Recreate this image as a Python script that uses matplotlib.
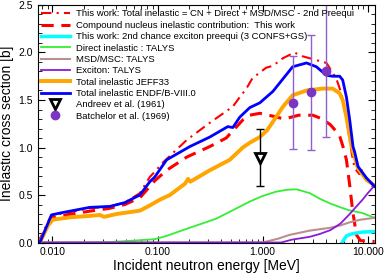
import numpy as np
import matplotlib
matplotlib.use('Agg')
import matplotlib.pyplot as plt
from matplotlib.ticker import FixedLocator, LogLocator, MultipleLocator, NullFormatter

plt.rcParams['font.family'] = ['Liberation Sans', 'DejaVu Sans']

# ENDF/B-VIII.0 total inelastic
e_endf = [0.0076, 0.0098, 0.0118, 0.0227, 0.0352, 0.0489, 0.0679, 0.0845, 0.0942, 0.122,
          0.203, 0.314, 0.466, 0.52, 0.606, 0.754, 0.939, 1.25, 1.93, 2.61, 3.24, 4.04,
          4.63, 5.4, 5.77, 6.26, 6.73, 7.23, 7.51, 8.07, 9.7, 11.6]
s_endf = [0.0, 0.29, 0.31, 0.37, 0.38, 0.42, 0.50, 0.64, 0.69, 0.87,
          1.01, 1.11, 1.22, 1.21, 1.32, 1.42, 1.47, 1.59, 1.85, 1.89, 1.85, 1.76,
          1.75, 1.75, 1.71, 1.53, 1.29, 1.01, 0.95, 0.80, 0.68, 0.59]

# JEFF33 total inelastic
e_jeff = [0.0076, 0.0091, 0.0101, 0.0147, 0.0227, 0.0283, 0.031, 0.0407, 0.0679, 0.0845,
          0.105, 0.131, 0.183, 0.195, 0.205, 0.314, 0.486, 0.647, 0.754, 0.939, 1.1, 1.25,
          1.56, 1.93, 2.61, 3.7, 4.63, 5.4, 5.77, 6.26, 7.0, 8.07, 9.7, 11.6]
s_jeff = [0.0, 0.18, 0.24, 0.265, 0.28, 0.29, 0.27, 0.30, 0.335, 0.39,
          0.45, 0.50, 0.62, 0.67, 0.64, 0.76, 0.87, 1.0, 1.05, 1.11, 1.18, 1.27,
          1.43, 1.55, 1.60, 1.62, 1.62, 1.57, 1.50, 1.32, 1.01, 0.78, 0.66, 0.60]

# This work: total inelastic
e_tot = [0.0073, 0.0085, 0.0098, 0.0118, 0.0227, 0.0352, 0.0489, 0.0679, 0.0845, 0.0942,
         0.112, 0.19, 0.314, 0.52, 0.606, 0.70, 0.80, 1.08, 1.25, 1.56, 2.0, 2.4, 3.24,
         4.04, 5.0, 5.6, 6.26, 7.0, 7.5, 8.3, 8.8, 9.7, 11.6]
s_tot = [0.0, 0.15, 0.29, 0.30, 0.36, 0.38, 0.42, 0.52, 0.69, 0.745,
         0.84, 1.08, 1.26, 1.43, 1.53, 1.62, 1.73, 1.84, 1.86, 1.94, 2.0, 1.96, 1.92,
         1.89, 1.73, 1.57, 1.30, 0.95, 0.78, 0.72, 0.76, 0.66, 0.60]

# Compound nucleus inelastic: this work
e_cn = [0.0075, 0.0098, 0.0118, 0.0227, 0.0352, 0.0489, 0.0679, 0.0942, 0.122, 0.19,
        0.314, 0.45, 0.647, 0.754, 0.94, 1.25, 1.6, 2.2, 3.0, 3.7, 4.4, 5.0,
        5.4, 5.77, 6.26, 6.73, 7.2, 7.8, 8.5, 11.6]
s_cn = [0.0, 0.26, 0.28, 0.33, 0.36, 0.40, 0.47, 0.65, 0.76, 0.90,
        1.01, 1.10, 1.29, 1.34, 1.36, 1.33, 1.30, 1.34, 1.34, 1.30, 1.24, 1.17,
        1.12, 1.02, 0.87, 0.60, 0.32, 0.08, 0.02, 0.01]

# 2nd chance exciton preequi
e_2nd = [5.7, 6.26, 7.0, 7.8, 9.0, 11.6]
s_2nd = [0.0, 0.07, 0.09, 0.10, 0.11, 0.115]

# Direct inelastic TALYS
e_dir = [0.0073, 0.02, 0.035, 0.06, 0.0942, 0.122, 0.174, 0.25, 0.36, 0.5, 0.75, 1.0, 1.34,
         1.7, 2.1, 2.8, 3.5, 4.4, 5.5, 6.6, 8.9, 11.6]
s_dir = [0.0, 0.0, 0.005, 0.02, 0.035, 0.07, 0.13, 0.19, 0.25, 0.33, 0.43, 0.49, 0.535,
         0.555, 0.56, 0.52, 0.46, 0.41, 0.37, 0.34, 0.31, 0.26]

# MSD/MSC TALYS
e_msd = [0.0073, 1.0, 1.4, 1.8, 2.3, 2.8, 3.5, 4.4, 5.5, 6.6, 8.5, 11.6]
s_msd = [0.0, 0.0, 0.04, 0.08, 0.105, 0.125, 0.14, 0.155, 0.18, 0.21, 0.24, 0.26]

# Exciton TALYS
e_exc = [0.0073, 1.5, 1.9, 2.8, 3.5, 4.4, 5.5, 6.6, 7.8, 8.9, 10.0, 11.6]
s_exc = [0.0, 0.0, 0.03, 0.06, 0.09, 0.13, 0.20, 0.29, 0.38, 0.45, 0.52, 0.60]

# experiments
e_andreev = [0.95]
s_andreev = [0.89]
err_andreev = [0.30]

e_batch = [1.94, 2.9, 3.97]
s_batch = [1.47, 1.58, 1.81]
err_lo_batch = [0.49, 0.61, 0.70]
err_hi_batch = [0.49, 0.60, 0.90]

xticks = [0.01, 0.1, 1.0, 10.0]
xlabels = ['0.010', '0.100', '1.000', '10.000']

fig = plt.figure(figsize=(3.85, 2.73), dpi=100)
ax = fig.add_axes([0.0987, 0.1117, 0.8753, 0.87])

ax.plot(e_tot, s_tot, color='red', ls=(0, (5, 2.5, 1, 2.5)), lw=1.5,
        label='This work: Total inelastic = CN + Direct + MSD/MSC - 2nd Preequi')
ax.plot(e_cn, s_cn, color='red', ls=(0, (4, 2.5)), lw=2.2,
        label='Compound nucleus inelastic contribution:  This work')
ax.plot(e_2nd, s_2nd, color='cyan', lw=2.5,
        label='This work: 2nd chance exciton preequi (3 CONFS+GS)')
ax.plot(e_dir, s_dir, color='#33ee33', lw=1.3, label='Direct inelastic : TALYS')
ax.plot(e_msd, s_msd, color='#bc8f8f', lw=1.5, label='MSD/MSC: TALYS')
ax.plot(e_exc, s_exc, color='#8a1ad8', lw=1.3, label='Exciton: TALYS')
ax.plot(e_jeff, s_jeff, color='orange', lw=2.8, label='Total inelastic JEFF33')
ax.plot(e_endf, s_endf, color='blue', lw=2.0, label='Total inelastic ENDF/B-VIII.0')

# error bars first, markers on top (markers only in the legend)
ax.errorbar(e_andreev, s_andreev, yerr=err_andreev, fmt='none', ecolor='black',
            capsize=3, elinewidth=1.0)
ax.plot(e_andreev, s_andreev, 'v', mfc='white', mec='black', mew=2.0, ms=7,
        ls='none', label='Andreev et al. (1961)')
ax.errorbar(e_batch, s_batch, yerr=[err_lo_batch, err_hi_batch], fmt='none',
            ecolor='#9060d0', capsize=3, elinewidth=1.0)
ax.plot(e_batch, s_batch, 'o', color='#7b35c4', ms=6, ls='none',
        label='Batchelor et al. (1969)')

ax.set_xscale('log')
ax.set_xlim(0.0073, 11.7)
ax.set_ylim(0, 2.5)
ax.xaxis.set_major_locator(FixedLocator(xticks))
ax.set_xticklabels(xlabels)
ax.xaxis.set_minor_locator(LogLocator(base=10, subs=np.arange(2, 10)))
ax.xaxis.set_minor_formatter(NullFormatter())
ax.yaxis.set_major_locator(MultipleLocator(0.5))
ax.yaxis.set_minor_locator(MultipleLocator(0.1))
ax.yaxis.set_major_formatter(plt.FormatStrFormatter('%.1f'))
ax.tick_params(which='both', direction='in', top=True, right=True, labelsize=7.5)
ax.tick_params(which='major', length=5, width=0.8)
ax.tick_params(which='minor', length=3, width=0.6)
ax.set_xlabel('Incident neutron energy [MeV]', fontsize=10, labelpad=1)
ax.set_ylabel('Inelastic cross section [b]', fontsize=10, labelpad=3)

ax.legend(loc='upper left', bbox_to_anchor=(0.0, 0.995), frameon=False, fontsize=6.8,
          handlelength=3.0, handletextpad=0.7, labelspacing=0.25, borderpad=0.25,
          borderaxespad=0.1, numpoints=1)

fig.savefig('out.png', dpi=100)
